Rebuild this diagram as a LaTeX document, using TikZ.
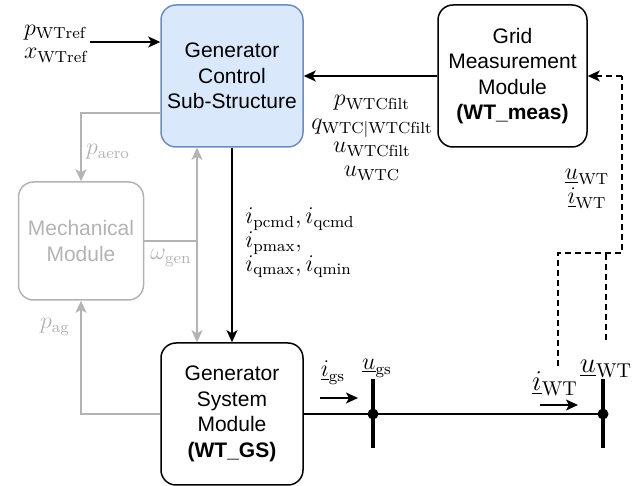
\documentclass[tikz,border=0pt]{standalone}
\usepackage{fontspec}
\newfontfamily\boxfont{Liberation Sans}
\usetikzlibrary{arrows.meta}
\definecolor{lgray}{RGB}{179,179,179}
\definecolor{bfill}{HTML}{DAE8FC}
\definecolor{bdraw}{HTML}{6C8EBF}
\begin{document}
\begin{tikzpicture}[x=0.5pt,y=-0.5pt,
  box/.style={draw, rounded corners=7.5pt, line width=0.75pt, align=center,
    font=\boxfont\fontsize{10.5}{12.75}\selectfont, inner sep=0pt},
  lbl/.style={font=\fontsize{12}{11.8}\selectfont, inner sep=0pt},
  biglbl/.style={font=\fontsize{14.4}{14}\selectfont, inner sep=0pt},
  conn/.style={line width=0.75pt},
  arr/.style={conn, -{Stealth[length=6pt,width=5.5pt,inset=1.5pt]}},
  busbar/.style={line width=2pt},
  dot/.style={circle, fill, inner sep=0pt, minimum size=5.5pt},
  dsh/.style={conn, dash pattern=on 3pt off 2pt}]
\useasboundingbox (0,0) rectangle (644,486);

% boxes
\node[box, fill=bfill, draw=bdraw, minimum width=71pt, minimum height=71pt] (gcs) at (232,76)
  {Generator\\Control\\Sub-Structure};
\node[box, minimum width=74.5pt, minimum height=71pt] (grid) at (512.5,76)
  {Grid\\Measurement\\Module\\\textbf{(WT\_meas)}};
\node[box, draw=lgray, text=lgray, minimum width=62.5pt, minimum height=59pt] (mech) at (81,241)
  {Mechanical\\Module};
\node[box, minimum width=71pt, minimum height=71pt] (gs) at (232,414)
  {Generator\\System\\Module\\\textbf{(WT\_GS)}};

% input
\coordinate (inp) at (90,42);
\node[lbl, anchor=east, align=left] (inlbl) at (88,44)
  {$p_{\mathrm{WTref}}$\\$x_{\mathrm{WTref}}$};
\draw[arr] (inp) -- (inp -| gcs.west);

% grid -> gcs
\draw[arr] (grid.west) -- (gcs.east);
\node[lbl, align=center] (wtclbl) at (372,138)
  {$p_{\mathrm{WTCfilt}}$\\$q_{\mathrm{WTC|WTCfilt}}$\\$u_{\mathrm{WTCfilt}}$\\$u_{\mathrm{WTC}}$};

% gray connectors
\coordinate (pa) at (161,113);
\draw[arr, lgray] (pa) -| (mech.north);
\node[lbl, text=lgray] (palbl) at (108,152) {$p_{\mathrm{aero}}$};
\coordinate (wj) at (197,241);
\draw[conn, lgray] (mech.east) -- (wj);
\draw[arr, lgray] (wj) -- (wj |- gcs.south);
\draw[arr, lgray] (wj) -- (wj |- gs.north);
\node[lbl, text=lgray] (wlbl) at (171,258) {$\omega_{\mathrm{gen}}$};
\draw[arr, lgray] (gs.west) -| (mech.south);
\node[lbl, text=lgray] (paglbl) at (55,327) {$p_{\mathrm{ag}}$};

% command currents
\draw[arr] (gcs.south) -- (gs.north);
\node[lbl, anchor=west, align=left] (ilbl) at (245,243)
  {$i_{\mathrm{pcmd}}, i_{\mathrm{qcmd}}$\\$i_{\mathrm{pmax}},$\\$i_{\mathrm{qmax}}, i_{\mathrm{qmin}}$};

% buses
\coordinate (b1) at (373,414);
\coordinate (b2) at (603,414);
\draw[conn] (gs.east) -- (b1) -- (b2);
\draw[busbar] (373,379) -- (373,448);
\draw[busbar] (603,379) -- (603,448);
\node[dot] (d1) at (b1) {};
\node[dot] (d2) at (b2) {};

% current arrows & labels
\coordinate (ig1) at (320,398);
\coordinate (ig2) at (358,398);
\draw[arr] (ig1) -- (ig2);
\node[lbl] (iglbl) at (333,373) {$\underline{i}_{\mathrm{gs}}$};
\node[lbl] (uglbl) at (377,368) {$\underline{u}_{\mathrm{gs}}$};
\coordinate (iw1) at (540,405);
\coordinate (iw2) at (578,405);
\draw[arr] (iw1) -- (iw2);
\node[biglbl] (iwlbl) at (555,384) {$\underline{i}_{\mathrm{WT}}$};
\node[biglbl] (uwlbl) at (606,369) {$\underline{u}_{\mathrm{WT}}$};

% dashed measurement
\coordinate (m1) at (558,366);
\coordinate (m2) at (558,253);
\coordinate (m3) at (622,253);
\coordinate (m4) at (606,340);
\coordinate (m5) at (606,253);
\draw[dsh] (m1) -- (m2) -- (m3) -- (m3 |- grid.east);
\draw[dsh, -{Stealth[length=6pt,width=5.5pt,inset=1.5pt]}] (m3 |- grid.east) -- (grid.east);
\draw[dsh] (m4) -- (m5);
\node[lbl, align=center] (mlbl) at (587,189)
  {$\underline{u}_{\mathrm{WT}}$\\$\underline{i}_{\mathrm{WT}}$};
\end{tikzpicture}
\end{document}
